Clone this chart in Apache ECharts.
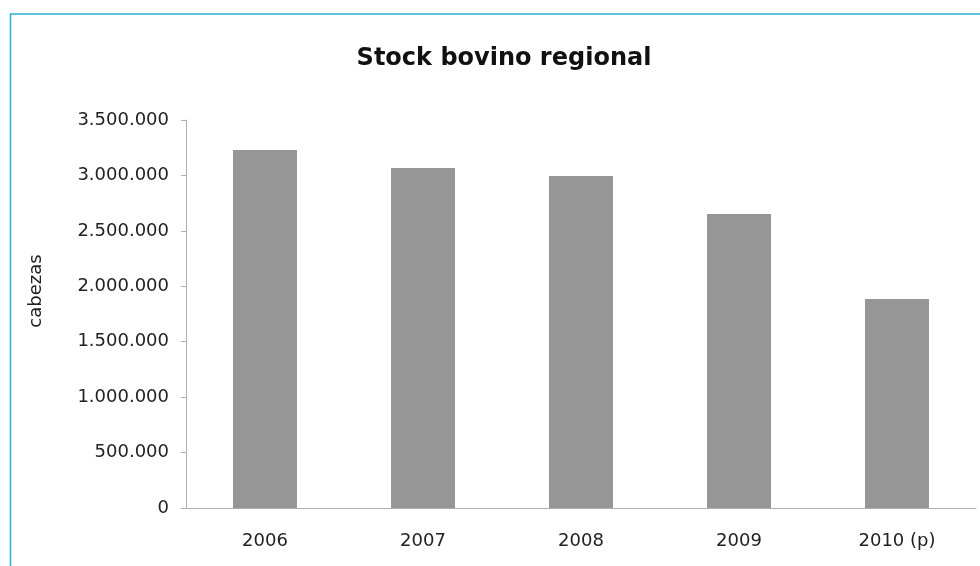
<!DOCTYPE html>
<html>
<head>
<meta charset="utf-8">
<script src="https://cdn.jsdelivr.net/npm/echarts@6/dist/echarts.min.js"></script>
<style>html,body{margin:0;padding:0;background:#fff;}#c{width:980px;height:566px;}</style>
</head>
<body>
<div id="c"></div>
<script>
var categories = ['2006', '2007', '2008', '2009', '2010 (p)'];
var stock = [3229000, 3067000, 2995000, 2652000, 1885000];
var yTicks = [0, 500000, 1000000, 1500000, 2000000, 2500000, 3000000, 3500000];

function fmt(v) {
  return String(v).replace(/\B(?=(\d{3})+(?!\d))/g, '.');
}

var chart = echarts.init(document.getElementById('c'), null, {renderer: 'canvas'});
var font = '"DejaVu Sans", Verdana, sans-serif';
chart.setOption({
  animation: false,
  backgroundColor: '#fff',
  title: {
    text: 'Stock bovino regional',
    left: 499,
    textAlign: 'center',
    top: 42,
    textStyle: {fontFamily: font, fontSize: 24, fontWeight: 'bold', color: '#111'}
  },
  grid: {left: 186, top: 120, right: 4, bottom: 58, containLabel: false},
  xAxis: {
    type: 'category',
    data: categories,
    axisLine: {lineStyle: {color: '#b0b0b0', width: 1}},
    axisTick: {show: false},
    axisLabel: {color: '#222', fontFamily: font, fontSize: 18, margin: 24}
  },
  yAxis: {
    type: 'value',
    min: yTicks[0],
    max: yTicks[yTicks.length - 1],
    interval: 500000,
    axisLine: {show: true, lineStyle: {color: '#b0b0b0', width: 1}},
    axisTick: {show: true, length: 5, lineStyle: {color: '#b0b0b0'}},
    splitLine: {show: false},
    axisLabel: {color: '#222', fontFamily: font, fontSize: 18, margin: 17, formatter: fmt}
  },
  graphic: [
    {
      type: 'rect',
      shape: {x: 10.5, y: 14, width: 1000, height: 600},
      style: {fill: 'none', stroke: '#2ab0cf', lineWidth: 1.5},
      silent: true
    },
    {
      type: 'text',
      x: 36, y: 291,
      rotation: Math.PI / 2,
      style: {text: 'cabezas', fill: '#222', font: '18px ' + font, textAlign: 'center', textVerticalAlign: 'middle'}
    }
  ],
  series: [{
    type: 'bar',
    data: stock,
    barWidth: 64,
    itemStyle: {color: '#969696'}
  }]
});
</script>
</body>
</html>
